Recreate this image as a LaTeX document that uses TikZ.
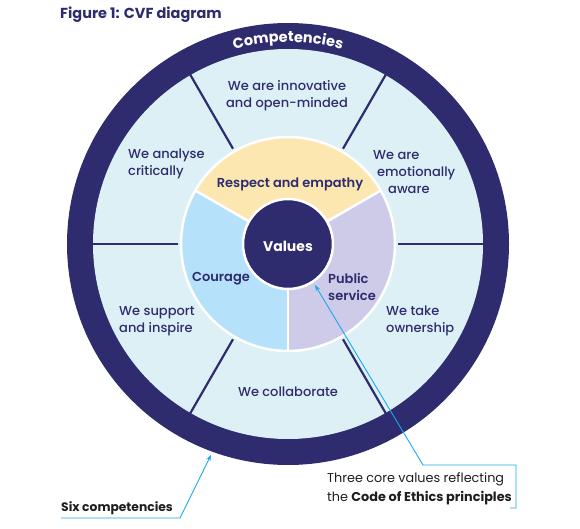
\documentclass[tikz,border=0pt]{standalone}
\usepackage{fontspec}
\setmainfont{Poppins}
\newfontfamily\medf{Poppins Medium}
\newfontfamily\semif{Poppins SemiBold}
\newfontfamily\boldf{Poppins Bold}
\usetikzlibrary{arrows.meta,decorations.text,calc}
\definecolor{navy}{HTML}{2E2C6E}
\definecolor{lightc}{HTML}{DDF0F6}
\definecolor{yellowc}{HTML}{FDE7B0}
\definecolor{couragec}{HTML}{B5E2FA}
\definecolor{lavc}{HTML}{CECBE8}
\definecolor{cyanc}{HTML}{1AA8F0}
\definecolor{inkc}{HTML}{1E1E1E}
\begin{document}
\begin{tikzpicture}[x=1pt,y=1pt,
  lbl/.style={font=\medf\fontsize{13}{17}\selectfont, text=navy, inner sep=0pt},
  vlbl/.style={font=\semif\fontsize{13}{17}\selectfont, text=navy, inner sep=0pt},
  divider/.style={draw=navy, line width=2.2pt},
  sep/.style={draw=white, line width=2.5pt},
  callout/.style={draw=cyanc, line width=0.9pt},
  tip/.style={-{Stealth[length=6pt,width=4.5pt]}}
]
\useasboundingbox (0,0) rectangle (580,528);
\coordinate (C) at (288,284);
% outer ring
\fill[navy] (C) circle[radius=221];
\fill[lightc] (C) circle[radius=195];
\foreach \a in {0,60,...,300}{
  \draw[divider] ($(C)+(\a:110)$) -- ($(C)+(\a:195.5)$);
}
% values ring
\fill[yellowc] (C) -- ++(30:107) arc[start angle=30,end angle=150,radius=107] -- cycle;
\fill[couragec] (C) -- ++(150:107) arc[start angle=150,end angle=270,radius=107] -- cycle;
\fill[lavc] (C) -- ++(270:107) arc[start angle=270,end angle=390,radius=107] -- cycle;
\foreach \a in {30,150,270}{
  \draw[sep] (C) -- ++(\a:107);
}
\draw[sep] (C) circle[radius=107];
\fill[navy] (C) circle[radius=45];
\draw[sep] (C) circle[radius=45];
% curved title
\path[decorate, decoration={text along path, text format delimiters={|}{|},
  text={|\boldf\fontsize{14.5}{14.5}\selectfont\color{white}|Competencies}, text align=center}]
  ($(C)+(140:202)$) arc[start angle=140,end angle=40,radius=202];
% title
\node[anchor=west, font=\boldf\fontsize{14.5}{17}\selectfont, text=navy, inner sep=0pt] (title) at (60,513) {Figure 1: CVF diagram};
% competency labels
\node[lbl, align=center] (innov) at (287,432.5) {We are innovative\\and open-minded};
\node[lbl, align=left, anchor=west] (analyse) at (128,364.5) {We analyse\\critically};
\node[lbl, align=left, anchor=west] (emot) at (373,355.5) {We are\\\hspace*{4pt}emotionally\\\hspace*{15pt}aware};
\node[lbl, align=left, anchor=west] (owner) at (386,207) {We take\\ownership};
\node[lbl, align=left, anchor=west] (support) at (119,207) {We support\\and inspire};
\node[lbl] (collab) at (288,136) {We collaborate};
% values labels
\node[vlbl] (respect) at (290,344) {Respect and empathy};
\node[vlbl] (courage) at (221,249) {Courage};
\node[vlbl, align=left, anchor=west] (public) at (328,241.5) {Public\\service};
\node[font=\boldf\fontsize{14}{17}\selectfont, text=white, inner sep=0pt] (values) at (288,282) {Values};
% annotations
\node[anchor=west, font=\boldf\fontsize{12.3}{15}\selectfont, text=inkc, inner sep=0pt] (six) at (61,20) {Six competencies};
\node[anchor=west, align=left, font=\fontsize{12.8}{19}\selectfont, text=inkc, inner sep=0pt] (three) at (327,39.5) {Three core values reflecting\\the {\boldf Code of Ethics principles}};
\coordinate (sixstart) at (61,10);
\coordinate (sixcorner) at (180,10);
\coordinate (sixtip) at (211,73);
\draw[callout, tip] (sixstart) -- (sixcorner) -- (sixtip);
\coordinate (thrA) at (510,20);
\coordinate (thrB) at (516,20);
\coordinate (thrC) at (516,63);
\coordinate (thrD) at (423,63);
\coordinate (thrtip) at (315,243);
\draw[callout, tip] (thrA) -- (thrB) -- (thrC) -- (thrD) -- (thrtip);
\end{tikzpicture}
\end{document}
